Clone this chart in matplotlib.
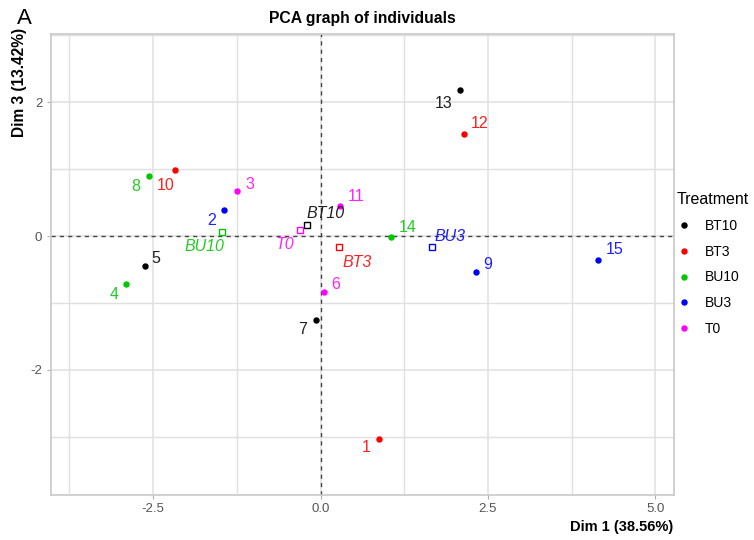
import matplotlib
matplotlib.use("Agg")
import matplotlib.pyplot as plt
from matplotlib.lines import Line2D

plt.rcParams['font.family'] = ['Liberation Sans', 'DejaVu Sans']

# individuals (Dim 1 / Dim 3 coordinates)
individuals = ['1', '2', '3', '4', '5', '6', '7', '8', '9', '10',
               '11', '12', '13', '14', '15']
dim1 = [0.873, -1.445, -1.24, -2.91, -2.62, 0.057, -0.063, -2.56, 2.33, -2.18,
        0.296, 2.14, 2.08, 1.057, 4.15]
dim3 = [-3.03, 0.383, 0.667, -0.72, -0.44, -0.84, -1.25, 0.905, -0.53, 0.98,
        0.448, 1.53, 2.18, -0.015, -0.365]
treatment = ['BT3', 'BU3', 'T0', 'BU10', 'BT10', 'T0', 'BT10', 'BU10', 'BU3', 'BT3',
             'T0', 'BT3', 'BT10', 'BU10', 'BU3']

# group barycentres
groups = ['BT10', 'BT3', 'BU10', 'BU3', 'T0']
group_dim1 = [-0.20, 0.276, -1.47, 1.67, -0.30]
group_dim3 = [0.164, -0.164, 0.06, -0.164, 0.09]

colors = {'BT10': 'black', 'BT3': '#FF0000', 'BU10': '#00C800',
          'BU3': '#0000FF', 'T0': '#FF00FF'}
text_colors = {'BT10': '#202020', 'BT3': '#FF2020', 'BU10': '#22CC22',
               'BU3': '#2020FF', 'T0': '#FF22FF'}

# label offsets in pixels (dx right, dy up)
ind_offsets = {'1': (-13, -9), '2': (-12, -10), '3': (12, 7), '4': (-12, -10),
               '5': (11, 7), '6': (11, 8), '7': (-14, -10), '8': (-13, -11),
               '9': (11, 7), '10': (-9, -15), '11': (16, 10), '12': (16, 10),
               '13': (-16, -13), '14': (16, 10), '15': (16, 11)}
grp_offsets = {'BT10': (18, 12), 'BT3': (18, -15), 'BU10': (-18, -14),
               'BU3': (18, 11), 'T0': (-16, -14)}

fig = plt.figure(figsize=(7.54, 5.40), dpi=100)
ax = fig.add_axes([50.7 / 754, 45 / 540, 623.3 / 754, 461 / 540])

ax.set_xlim(-4.03, 5.28)
ax.set_ylim(-3.87, 3.02)

# grid
ax.set_xticks([-2.5, 0.0, 2.5, 5.0])
ax.set_xticklabels(['-2.5', '0.0', '2.5', '5.0'])
ax.set_yticks([-2, 0, 2])
ax.set_yticklabels(['-2', '0', '2'])
ax.set_xticks([-3.75, -1.25, 1.25, 3.75], minor=True)
ax.set_yticks([-3, -1, 1, 3], minor=True)
ax.grid(True, which='major', color='#e0e0e0', linewidth=1.1)
ax.grid(True, which='minor', color='#e0e0e0', linewidth=1.0)
ax.set_axisbelow(True)
ax.tick_params(which='major', length=3, color='#b0b0b0', labelcolor='#555555',
               labelsize=9.5, pad=3)
ax.tick_params(which='minor', length=0)
for sp in ax.spines.values():
    sp.set_color('#c8c8c8')
    sp.set_linewidth(1.2)

ax.axhline(0, color='#444444', linestyle=(0, (3, 3)), linewidth=1.0, zorder=1)
ax.axvline(0, color='#444444', linestyle=(0, (3, 3)), linewidth=1.0, zorder=1)

# individuals
handles = []
for g in groups:
    xs = [x for x, t in zip(dim1, treatment) if t == g]
    ys = [y for y, t in zip(dim3, treatment) if t == g]
    ax.plot(xs, ys, 'o', color=colors[g], markersize=3.6, zorder=3)
    handles.append(Line2D([], [], marker='o', linestyle='', color=colors[g],
                          markersize=3.6, label=g))

for name, x, y, t in zip(individuals, dim1, dim3, treatment):
    ax.annotate(name, (x, y), xytext=ind_offsets[name], textcoords='offset pixels',
                ha='center', va='center', fontsize=11.5, color=text_colors[t])

# barycentres
for g, x, y in zip(groups, group_dim1, group_dim3):
    ax.plot(x, y, 's', markerfacecolor='none', markeredgecolor=colors[g],
            markersize=5, markeredgewidth=1.0, zorder=3)
    ax.annotate(g, (x, y), xytext=grp_offsets[g], textcoords='offset pixels',
                ha='center', va='center', fontsize=11.5, style='italic',
                color=text_colors[g])

ax.set_title('PCA graph of individuals', fontsize=11.3, fontweight='bold', pad=8)
fig.text(20 / 754, 1 - 28 / 540, 'Dim 3 (13.42%)', rotation=90, va='top', ha='center',
         fontsize=11.2, fontweight='bold')
fig.text(673 / 754, 1 - 527 / 540, 'Dim 1 (38.56%)', ha='right', va='center',
         fontsize=10.5, fontweight='bold')
fig.text(17 / 754, 1 - 18 / 540, 'A', ha='left', va='center', fontsize=16)

leg = ax.legend(handles=handles, title='Treatment', loc='upper left',
                bbox_to_anchor=(677 / 754, 1 - 192 / 540),
                bbox_transform=fig.transFigure, frameon=False, fontsize=10,
                title_fontsize=11.5, handlelength=1.0, handletextpad=1.0,
                labelspacing=0.85, borderpad=0, borderaxespad=0)
leg._legend_box.align = 'left'

fig.savefig('out.png', dpi=100)
